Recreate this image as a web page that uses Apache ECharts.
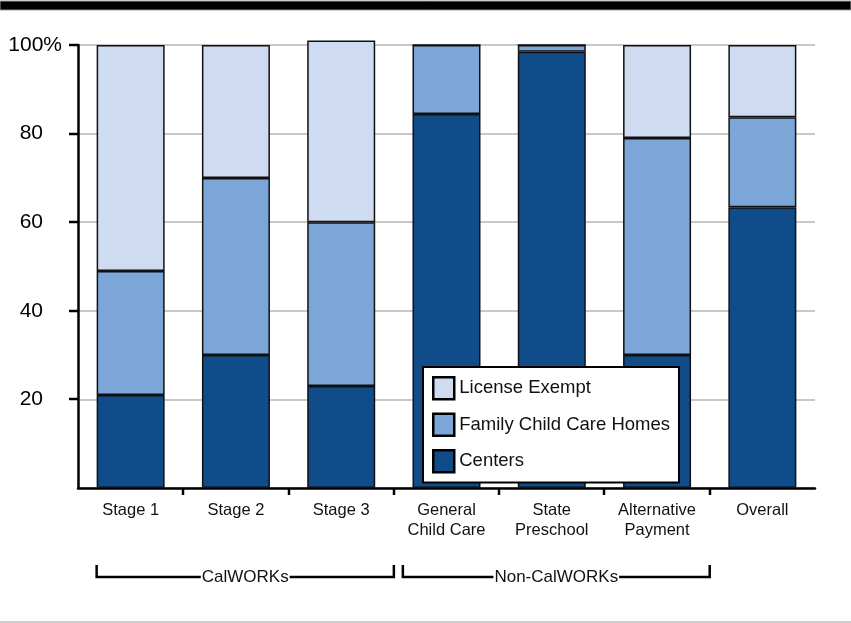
<!DOCTYPE html>
<html>
<head>
<meta charset="utf-8">
<script src="https://cdn.jsdelivr.net/npm/echarts@6/dist/echarts.min.js"></script>
<style>
  html, body { margin: 0; padding: 0; background: #fff; }
  #chart { width: 851px; height: 623px; }
</style>
</head>
<body>
<div id="chart"></div>
<script>
// ---------- data ----------
const categories = ['Stage 1', 'Stage 2', 'Stage 3', 'General\nChild Care', 'State\nPreschool', 'Alternative\nPayment', 'Overall']
const centers = [21, 30, 23, 84.4, 98.5, 30, 63.4]
const familyCare = [28, 40, 37, 15.6, 1.5, 49, 20.3]
const licenseExempt = [51, 30, 41, 0, 0, 21, 16.3]
const yTicks = [0, 20, 40, 60, 80, 100]
const groups = [
  { name: 'CalWORKs', from: 0, to: 2 },
  { name: 'Non-CalWORKs', from: 3, to: 5 },
]

const FONT = '"Liberation Sans", Arial, Helvetica, sans-serif'
const COLORS = { centers: '#0f4c89', family: '#7ba6d7', exempt: '#cfdbf1' }
const BAR_WIDTH = 68

function barSeries(name, data, color) {
  return {
    name, type: 'bar', stack: 'total', data,
    barWidth: BAR_WIDTH, clip: false,
    itemStyle: { color, borderColor: '#111', borderWidth: 1.5 },
  }
}

const chart = echarts.init(document.getElementById('chart'))

chart.setOption({
  animation: false,
  textStyle: { fontFamily: FONT },
  grid: { left: 78, right: 36, top: 45, bottom: 135 },
  legend: {
    data: ['License Exempt', 'Family Child Care Homes', 'Centers'],
    orient: 'vertical',
    left: 423, top: 367,
    padding: [9, 9, 9, 9],
    icon: 'rect',
    itemWidth: 21, itemHeight: 22, itemGap: 12,
    backgroundColor: '#fff', borderColor: '#000', borderWidth: 2,
    itemStyle: { borderColor: '#000', borderWidth: 2.5 },
    textStyle: { fontSize: 18.5, color: '#111', fontFamily: FONT },
  },
  xAxis: {
    type: 'category', data: categories,
    axisLine: { lineStyle: { color: '#000', width: 2.5 } },
    axisTick: { show: false },
    axisLabel: { fontSize: 16.5, color: '#111', lineHeight: 20, margin: 12, fontFamily: FONT },
  },
  yAxis: {
    type: 'value', min: yTicks[0], max: yTicks[yTicks.length - 1], interval: 20,
    axisLine: { show: true, lineStyle: { color: '#000', width: 2.5 } },
    axisTick: { show: false },
    splitLine: { lineStyle: { color: '#c8c8c8', width: 2 } },
    axisLabel: {
      fontSize: 21, color: '#000', margin: 16, fontFamily: FONT,
      formatter: (v) => v === 0 ? '' : v === 100 ? '100%' : v + '{sp| }',
      rich: { sp: { width: 19 } },
    },
  },
  series: [
    barSeries('Centers', centers, COLORS.centers),
    barSeries('Family Child Care Homes', familyCare, COLORS.family),
    barSeries('License Exempt', licenseExempt, COLORS.exempt),
  ],
})

// ---------- axis decorations derived from the scales ----------
const px = (i) => chart.convertToPixel({ xAxisIndex: 0 }, i)
const py = (v) => chart.convertToPixel({ yAxisIndex: 0 }, v)
const band = px(1) - px(0)
const boundary = (i) => px(i) + band / 2
const axisX = px(0) - band / 2
const axisY = py(0)

const graphics = [
  // top rule and bottom rule of the page
  { type: 'rect', shape: { x: 0, y: 1, width: 851, height: 9 }, style: { fill: '#000', stroke: '#999', lineWidth: 1 } },
  { type: 'rect', shape: { x: 0, y: 621, width: 851, height: 2 }, style: { fill: '#cfcfcf' } },
]

// y ticks, none at zero
yTicks.filter((v) => v > 0).forEach((v) => {
  const y = Math.round(py(v))
  graphics.push({ type: 'line', shape: { x1: axisX - 9, y1: y, x2: axisX, y2: y }, style: { stroke: '#000', lineWidth: 2.5 }, z: 5 })
})

// x ticks only between categories
for (let i = 0; i < categories.length - 1; i++) {
  const x = Math.round(boundary(i))
  graphics.push({ type: 'line', shape: { x1: x, y1: axisY, x2: x, y2: axisY + 7 }, style: { stroke: '#000', lineWidth: 2.5 } })
}

// group brackets
const bracketTop = 565
const bracketY = 577
groups.forEach((g, k) => {
  const left = k === 0 ? px(g.from) - BAR_WIDTH / 2 : boundary(g.from - 1) + 9
  const right = boundary(g.to)
  graphics.push({
    type: 'polyline',
    shape: { points: [[left, bracketTop], [left, bracketY], [right, bracketY], [right, bracketTop]] },
    style: { stroke: '#000', lineWidth: 2.5, fill: null },
  })
  graphics.push({
    type: 'text', x: (left + right) / 2, y: bracketY,
    style: {
      text: g.name, fontSize: 17, fontFamily: FONT, fill: '#111',
      align: 'center', verticalAlign: 'middle',
      backgroundColor: '#fff', padding: [0, 1],
    },
    z: 10,
  })
})

chart.setOption({ graphic: graphics })
</script>
</body>
</html>
